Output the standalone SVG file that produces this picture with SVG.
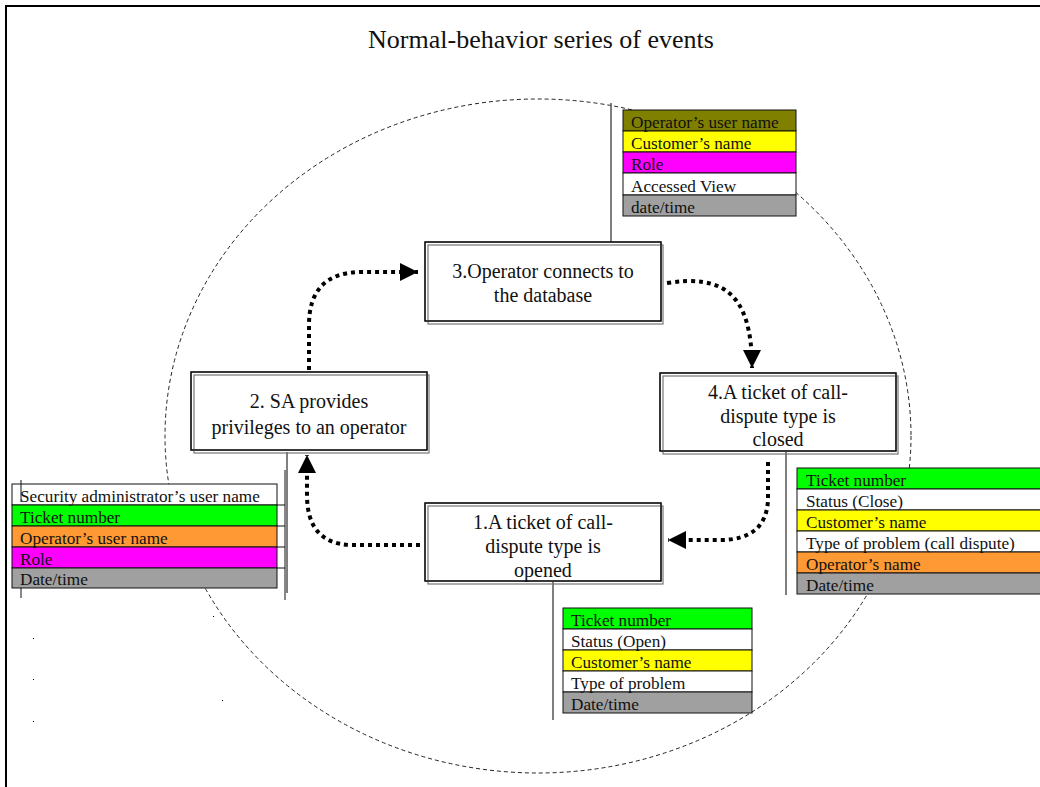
<svg xmlns="http://www.w3.org/2000/svg" width="1040" height="787" viewBox="0 0 1040 787">
<style>
text{font-family:"Liberation Serif","Times New Roman",serif;fill:#111}
.title{font-size:26px}
.bt{font-size:20px;text-anchor:middle}
.tt{font-size:17.2px}
.row{stroke:#111;stroke-width:1}
.bo{fill:#fff;stroke:#111;stroke-width:1.2}
.bs{fill:none;stroke:#777;stroke-width:1.2}
.lead{stroke:#555;stroke-width:1.5;fill:none}
.flow{fill:none;stroke:#000;stroke-width:4;stroke-dasharray:4 4}
</style>
<defs>
<marker id="ah" markerUnits="userSpaceOnUse" markerWidth="20" markerHeight="18" refX="18" refY="9" orient="auto">
<path d="M0,0 L18,9 L0,18 Z" fill="#000"/>
</marker>
</defs>
<rect width="1040" height="787" fill="#fff"/>
<path d="M6,787 V6 H1040" fill="none" stroke="#000" stroke-width="2"/>
<text class="title" x="541" y="48" text-anchor="middle">Normal-behavior series of events</text>
<ellipse cx="538" cy="436" rx="373" ry="337" fill="none" stroke="#222" stroke-width="1" stroke-dasharray="4 3"/>
<g id="dots" fill="#000">
<rect x="33" y="638" width="1" height="1"/><rect x="33" y="679" width="1" height="1"/><rect x="33" y="721" width="1" height="1"/><rect x="213" y="616" width="1" height="1"/><rect x="222" y="700" width="1" height="1"/>
</g>
<g id="connectors">
<path class="lead" d="M611,103 V242"/>
<path class="lead" d="M287,452 V593"/>
<path class="lead" d="M786,452 V595"/>
<path class="lead" d="M553,582 V720"/>
<path class="flow" d="M309,370 V325 Q309,273 360,272 H418" marker-end="url(#ah)"/>
<path class="flow" d="M667,283 C720,275 752,290 752,368" marker-end="url(#ah)"/>
<path class="flow" d="M768,462 V500 Q766,540 720,540 H668" marker-end="url(#ah)"/>
<path class="flow" d="M420,545 H350 Q307,543 307,495 V455" marker-end="url(#ah)"/>
</g>
<g id="node3">
<rect class="bo" x="425" y="242" width="236" height="79"/>
<rect class="bs" x="428" y="245" width="235" height="79"/>
<rect class="bo" x="425" y="242" width="236" height="79" style="fill:none"/>
<text class="bt" x="543" y="278">3.Operator connects to</text>
<text class="bt" x="543" y="302">the database</text>
</g>
<g id="node2">
<rect class="bo" x="191" y="372" width="236" height="78"/>
<rect class="bs" x="194" y="375" width="235" height="78"/>
<rect class="bo" x="191" y="372" width="236" height="78" style="fill:none"/>
<text class="bt" x="309" y="408">2. SA provides</text>
<text class="bt" x="309" y="434">privileges to an operator</text>
</g>
<g id="node4">
<rect class="bo" x="660" y="373" width="236" height="78"/>
<rect class="bs" x="663" y="376" width="235" height="78"/>
<rect class="bo" x="660" y="373" width="236" height="78" style="fill:none"/>
<text class="bt" x="778" y="399">4.A ticket of call-</text>
<text class="bt" x="778" y="423">dispute type is</text>
<text class="bt" x="778" y="446">closed</text>
</g>
<g id="node1">
<rect class="bo" x="425" y="503" width="236" height="78"/>
<rect class="bs" x="428" y="506" width="235" height="78"/>
<rect class="bo" x="425" y="503" width="236" height="78" style="fill:none"/>
<text class="bt" x="543" y="529">1.A ticket of call-</text>
<text class="bt" x="543" y="553">dispute type is</text>
<text class="bt" x="543" y="577">opened</text>
</g>
<g id="table3">
<rect class="row" x="623" y="110" width="173" height="21" fill="#808000"/>
<rect class="row" x="623" y="131" width="173" height="21" fill="#ffff00"/>
<rect class="row" x="623" y="152" width="173" height="21" fill="#ff00ff"/>
<rect class="row" x="623" y="173" width="173" height="22" fill="#ffffff"/>
<rect class="row" x="623" y="195" width="173" height="21" fill="#a0a0a0"/>
<text class="tt" x="631" y="128">Operator’s user name</text>
<text class="tt" x="631" y="149">Customer’s name</text>
<text class="tt" x="631" y="170">Role</text>
<text class="tt" x="631" y="192">Accessed View</text>
<text class="tt" x="631" y="213">date/time</text>
</g>
<g id="table2">
<rect class="row" x="12" y="484" width="265" height="21" fill="#ffffff"/>
<rect class="row" x="12" y="505" width="265" height="21" fill="#00ff00"/>
<rect class="row" x="12" y="526" width="265" height="21" fill="#ff9933"/>
<rect class="row" x="12" y="547" width="265" height="21" fill="#ff00ff"/>
<rect class="row" x="12" y="568" width="265" height="20" fill="#a0a0a0"/>
<path class="row" d="M277,505 H285 M277,526 H285 M277,547 H285 M277,568 H285 M285,470 V600 M21,480 V502 M21,588 V598" fill="none"/>
<text class="tt" x="20" y="502">Security administrator’s user name</text>
<text class="tt" x="20" y="523">Ticket number</text>
<text class="tt" x="20" y="544">Operator’s user name</text>
<text class="tt" x="20" y="565">Role</text>
<text class="tt" x="20" y="585">Date/time</text>
</g>
<g id="table4">
<rect class="row" x="797" y="468" width="250" height="21" fill="#00ff00"/>
<rect class="row" x="797" y="489" width="250" height="21" fill="#ffffff"/>
<rect class="row" x="797" y="510" width="250" height="21" fill="#ffff00"/>
<rect class="row" x="797" y="531" width="250" height="21" fill="#ffffff"/>
<rect class="row" x="797" y="552" width="250" height="21" fill="#ff9933"/>
<rect class="row" x="797" y="573" width="250" height="21" fill="#a0a0a0"/>
<text class="tt" x="806" y="486">Ticket number</text>
<text class="tt" x="806" y="507">Status (Close)</text>
<text class="tt" x="806" y="528">Customer’s name</text>
<text class="tt" x="806" y="549">Type of problem (call dispute)</text>
<text class="tt" x="806" y="570">Operator’s name</text>
<text class="tt" x="806" y="591">Date/time</text>
</g>
<g id="table1">
<rect class="row" x="563" y="608" width="189" height="21" fill="#00ff00"/>
<rect class="row" x="563" y="629" width="189" height="21" fill="#ffffff"/>
<rect class="row" x="563" y="650" width="189" height="21" fill="#ffff00"/>
<rect class="row" x="563" y="671" width="189" height="21" fill="#ffffff"/>
<rect class="row" x="563" y="692" width="189" height="21" fill="#a0a0a0"/>
<text class="tt" x="571" y="626">Ticket number</text>
<text class="tt" x="571" y="647">Status (Open)</text>
<text class="tt" x="571" y="668">Customer’s name</text>
<text class="tt" x="571" y="689">Type of problem</text>
<text class="tt" x="571" y="710">Date/time</text>
</g>
</svg>
